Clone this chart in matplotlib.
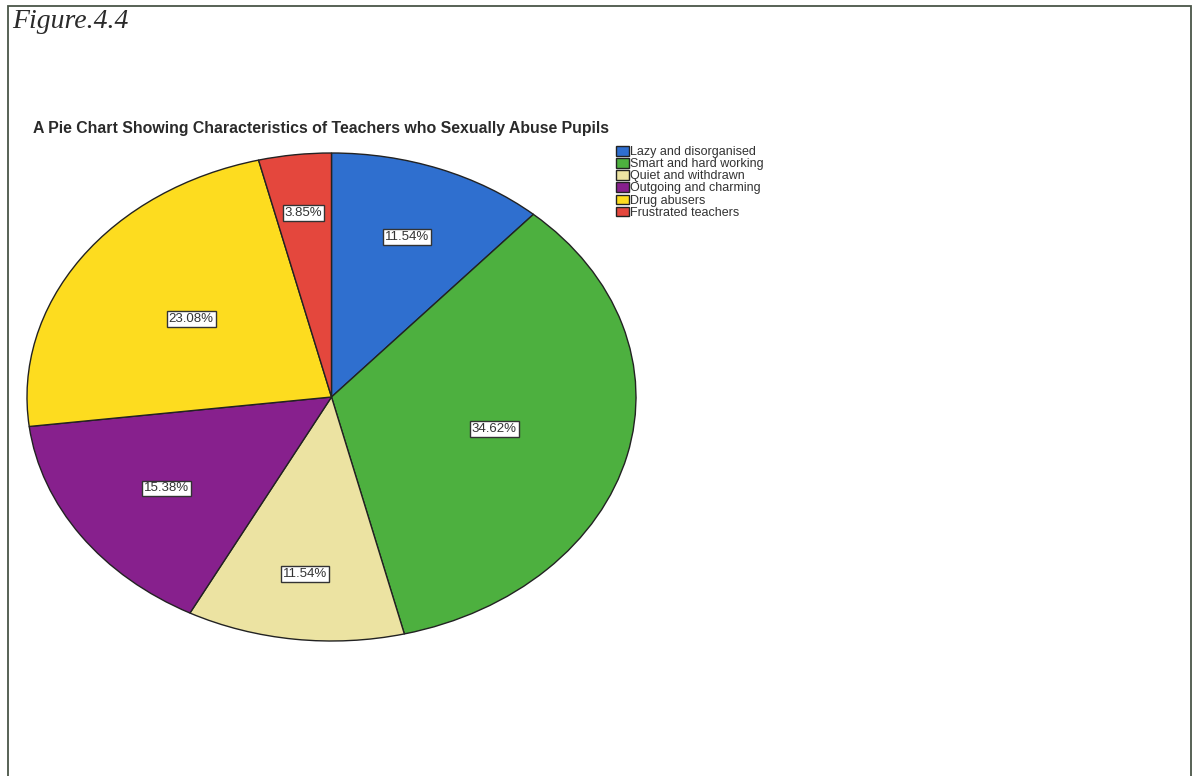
import matplotlib.pyplot as plt
import numpy as np
from matplotlib.patches import Rectangle

categories = ['Lazy and disorganised', 'Smart and hard working', 'Quiet and withdrawn',
              'Outgoing and charming', 'Drug abusers', 'Frustrated teachers']
percent = [11.54, 34.62, 11.54, 15.38, 23.08, 3.85]
colors = ['#2f6fcf', '#4db03f', '#ece3a2', '#87208d', '#fddc1f', '#e4473d']

# radial position of each percentage box, as fraction of the radius
label_r = [0.70, 0.55, 0.73, 0.66, 0.56, 0.76]

W, H = 1199, 776
fig = plt.figure(figsize=(W / 100, H / 100), dpi=100)

# page frame
fig.patches.append(Rectangle((8 / W, -0.01), (1191 - 8) / W, (776 - 6) / H + 0.01,
                             transform=fig.transFigure, fill=False,
                             edgecolor='#4a5548', linewidth=1.3))
fig.text(12 / W, 1 - 28 / H, 'Figure.4.4', family='Liberation Serif', style='italic',
         fontsize=20, color='#2a2a2a', va='baseline', ha='left')

fig.text(33 / W, 1 - 128 / H,
         'A Pie Chart Showing Characteristics of Teachers who Sexually Abuse Pupils',
         family='Liberation Sans', weight='bold', fontsize=11.4, color='#2a2a2a',
         va='center', ha='left')

ax = fig.add_axes([27 / W, (776 - 641) / H, 609 / W, 488 / H])
wedges, _ = ax.pie(percent, colors=colors, startangle=90, counterclock=False,
                   wedgeprops=dict(edgecolor='#222222', linewidth=1.0))
ax.set_aspect('auto')
ax.set_xlim(-1, 1)
ax.set_ylim(-1, 1)

for w, p, r in zip(wedges, percent, label_r):
    mid = np.deg2rad((w.theta1 + w.theta2) / 2)
    ax.text(r * np.cos(mid), r * np.sin(mid), f'{p:.2f}%', ha='center', va='center',
            family='Liberation Sans', fontsize=9.5, color='#333333',
            bbox=dict(boxstyle='square,pad=0.15', facecolor='white',
                      edgecolor='#333333', linewidth=1.0))

fig.legend(wedges, categories, loc='upper left', bbox_to_anchor=(616 / W, 1 - 146 / H),
           frameon=False, prop={'family': 'Liberation Sans', 'size': 9},
           labelcolor='#333333',
           handlelength=1.0, handleheight=0.8, handletextpad=0.15, labelspacing=0.0,
           borderpad=0, borderaxespad=0)

fig.savefig('out.png', dpi=100)
